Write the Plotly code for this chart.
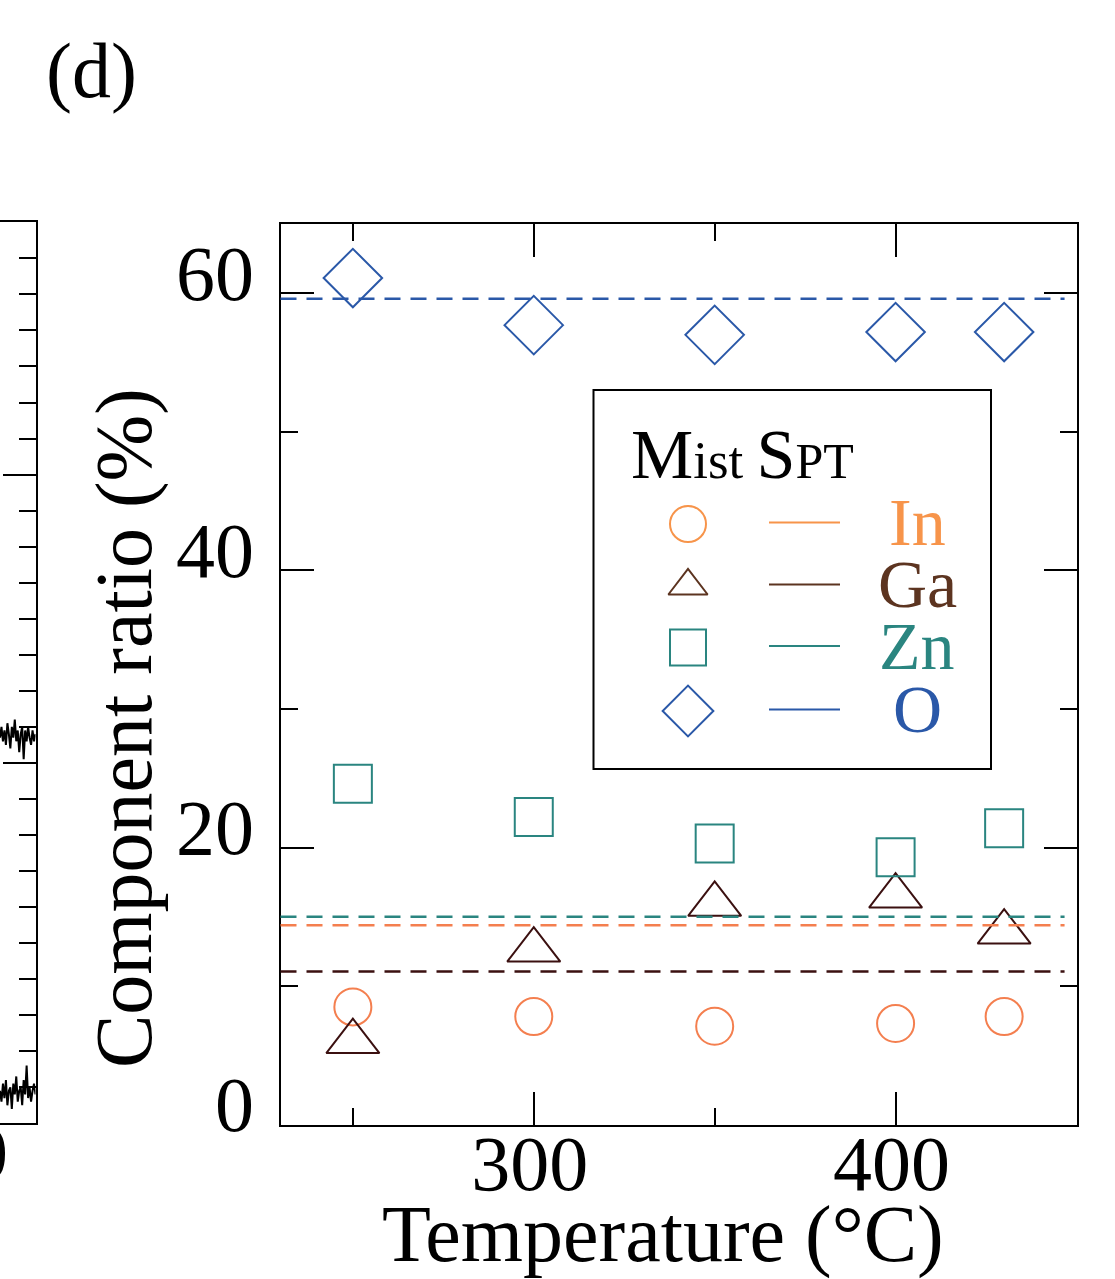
import plotly.graph_objects as go

W, H = 1115, 1279
FONT = "Liberation Serif"

# ---------------- data ----------------
temperature = [250, 300, 350, 400, 430]
in_mist = [8.5, 7.8, 7.1, 7.3, 7.8]
ga_mist = [6.0, 12.6, 15.9, 16.5, 13.9]
zn_mist = [24.6, 22.2, 20.3, 19.3, 21.4]
o_mist = [61.1, 57.7, 57.0, 57.2, 57.2]

spt_in = 14.4
spt_ga = 11.05
spt_zn = 15.0
spt_o = 59.6

x_ticks = [300, 400]
y_ticks = [0, 20, 40, 60]

# neighbouring (cropped) panel trace fragments
left_trace_a = [10.7, 11.0, 10.6, 10.9, 10.5, 11.1, 10.8, 10.4, 11.0, 10.7, 11.2, 10.6, 10.9,
                10.3, 10.8, 11.0, 10.1, 10.9, 10.6, 11.0, 10.7, 10.5, 10.9, 10.6, 10.8]
left_trace_b = [0.9, 0.6, 1.1, 0.7, 1.2, 0.5, 0.9, 1.0, 0.4, 1.1, 0.8, 1.3, 0.6, 0.9,
                1.0, 0.5, 1.2, 0.8, 1.6, 0.7, 1.0, 0.6, 0.9, 1.1, 0.8]

# ---------------- colours ----------------
C_IN = "#F47F4F"
C_IN_LEG = "#F7944A"
C_GA = "#3B1010"
C_GA_LEG = "#5C3420"
C_ZN = "#2A8580"
C_O = "#2A58A8"


def px(x):
    return x / W


def py(y):
    return 1 - y / H


fig = go.Figure()

# main data markers
series = [
    ("In", in_mist, "circle-open", C_IN, 37),
    ("Ga", ga_mist, "triangle-up-open", C_GA, 46),
    ("Zn", zn_mist, "square-open", C_ZN, 38),
    ("O", o_mist, "diamond-open", C_O, 45),
]
for name, vals, sym, col, size in series:
    fig.add_trace(go.Scatter(
        x=temperature, y=vals, mode="markers", name=name,
        marker=dict(symbol=sym, size=size, color=col, line=dict(width=2, color=col)),
        xaxis="x", yaxis="y", showlegend=False, cliponaxis=False,
    ))

# SPT reference dashed lines
for val, col in [(spt_o, C_O), (spt_zn, C_ZN), (spt_in, C_IN), (spt_ga, C_GA)]:
    fig.add_shape(type="line", xref="x domain", yref="y", x0=0, x1=0.985, y0=val, y1=val,
                  line=dict(color=col, width=2.5, dash="16px,10px"), layer="above")

# ---------------- legend (custom box) ----------------
fig.add_shape(type="rect", xref="paper", yref="paper",
              x0=px(593.5), x1=px(991), y0=py(769), y1=py(390),
              line=dict(color="black", width=2), fillcolor="rgba(0,0,0,0)", layer="above")

leg_rows_y = [524, 586, 647.5, 711]
leg_items = [
    ("In", "circle-open", C_IN_LEG, 36),
    ("Ga", "triangle-up-open", C_GA_LEG, 34),
    ("Zn", "square-open", C_ZN, 36),
    ("O", "diamond-open", C_O, 39),
]
leg_x = [688]
for (name, sym, col, size), yy in zip(leg_items, leg_rows_y):
    fig.add_trace(go.Scatter(
        x=[px(leg_x[0])], y=[py(yy)], mode="markers", xaxis="x2", yaxis="y2", showlegend=False,
        marker=dict(symbol=sym, size=size, color=col, line=dict(width=2, color=col)),
        cliponaxis=False, hoverinfo="skip",
    ))
    fig.add_shape(type="line", xref="paper", yref="paper", x0=px(769), x1=px(840),
                  y0=py(yy - 1.5), y1=py(yy - 1.5), line=dict(color=col, width=2), layer="above")
    fig.add_annotation(text=name, xref="paper", yref="paper", x=px(917), y=py(yy - 2),
                       xanchor="center", yanchor="middle", showarrow=False,
                       font=dict(family=FONT, size=68, color=col))

fig.add_annotation(
    text='<span style="font-size:70px">M</span><span style="font-size:53px">ist </span>'
         '<span style="font-size:70px">S</span><span style="font-size:50px">PT</span>',
    xref="paper", yref="paper", x=px(629), y=py(455), xanchor="left", yanchor="middle",
    showarrow=False, font=dict(family=FONT, size=70, color="black"))

# ---------------- neighbouring cropped panel ----------------
fig.add_trace(go.Scatter(x=list(range(len(left_trace_a))), y=left_trace_a, mode="lines",
                         line=dict(color="black", width=2), xaxis="x3", yaxis="y3",
                         showlegend=False, hoverinfo="skip"))
fig.add_trace(go.Scatter(x=list(range(len(left_trace_b))), y=left_trace_b, mode="lines",
                         line=dict(color="black", width=2), xaxis="x3", yaxis="y3",
                         showlegend=False, hoverinfo="skip"))
fig.add_annotation(text="0", xref="paper", yref="paper", x=px(-12), y=py(1152),
                   xanchor="center", yanchor="middle", showarrow=False,
                   font=dict(family=FONT, size=78, color="black"))

# ---------------- text ----------------
fig.add_annotation(text="(d)", xref="paper", yref="paper", x=px(91), y=py(70),
                   xanchor="center", yanchor="middle", showarrow=False,
                   font=dict(family=FONT, size=78, color="black"))
fig.add_annotation(text="Temperature (°C)", xref="paper", yref="paper", x=px(663), y=py(1234),
                   xanchor="center", yanchor="middle", showarrow=False,
                   font=dict(family=FONT, size=80, color="black"))
fig.add_annotation(text="Component ratio (%)", xref="paper", yref="paper", x=px(124), y=py(728),
                   xanchor="center", yanchor="middle", showarrow=False, textangle=-90,
                   font=dict(family=FONT, size=80, color="black"))

axis_font = dict(family=FONT, size=78, color="black")

fig.update_layout(
    template="none",
    width=W, height=H, autosize=False,
    margin=dict(l=0, r=0, t=0, b=0, pad=0, autoexpand=False),
    paper_bgcolor="white", plot_bgcolor="rgba(0,0,0,0)",
    showlegend=False,
    xaxis=dict(
        domain=[px(280.5), px(1076.5)], range=[230, 450], anchor="y", automargin=False,
        tickmode="array", tickvals=x_ticks, ticks="inside", ticklen=33, tickwidth=2,
        tickcolor="black", showline=True, linewidth=2, linecolor="black", mirror="ticks",
        showgrid=False, zeroline=False, tickfont=axis_font,
        ticklabelstandoff=-30, ticklabelshift=-4,
        minor=dict(tickmode="linear", tick0=0, dtick=50, ticks="inside", ticklen=17,
                   tickwidth=2, tickcolor="black", showgrid=False),
    ),
    yaxis=dict(
        domain=[py(1124.7), py(224)], range=[0, 65], anchor="x", automargin=False,
        tickmode="array", tickvals=y_ticks, ticks="inside", ticklen=33, tickwidth=2,
        tickcolor="black", showline=True, linewidth=2, linecolor="black", mirror="ticks",
        showgrid=False, zeroline=False, tickfont=axis_font,
        ticklabelstandoff=9, ticklabelshift=-21,
        minor=dict(tickmode="linear", tick0=0, dtick=10, ticks="inside", ticklen=17,
                   tickwidth=2, tickcolor="black", showgrid=False),
    ),
    xaxis2=dict(domain=[0, 1], range=[0, 1], visible=False, anchor="y2", fixedrange=True,
                automargin=False),
    yaxis2=dict(domain=[0, 1], range=[0, 1], visible=False, anchor="x2", fixedrange=True,
                automargin=False),
    xaxis3=dict(domain=[0, px(35.5)], range=[0, len(left_trace_a) - 1], anchor="y3",
                automargin=False,
                showline=True, linewidth=2, linecolor="black", mirror=True,
                ticks="", showticklabels=False, showgrid=False, zeroline=False),
    yaxis3=dict(domain=[py(1123.3), py(222.3)], range=[0, 25], anchor="x3", side="right",
                automargin=False,
                showline=True, linewidth=2, linecolor="black", mirror=False,
                tickmode="array", tickvals=[10, 18], ticks="inside", ticklen=33, tickwidth=2,
                tickcolor="black", showticklabels=False, showgrid=False, zeroline=False,
                minor=dict(tickmode="linear", tick0=0, dtick=1, ticks="inside", ticklen=17,
                           tickwidth=2, tickcolor="black", showgrid=False)),
)

fig.write_html("out.html")
